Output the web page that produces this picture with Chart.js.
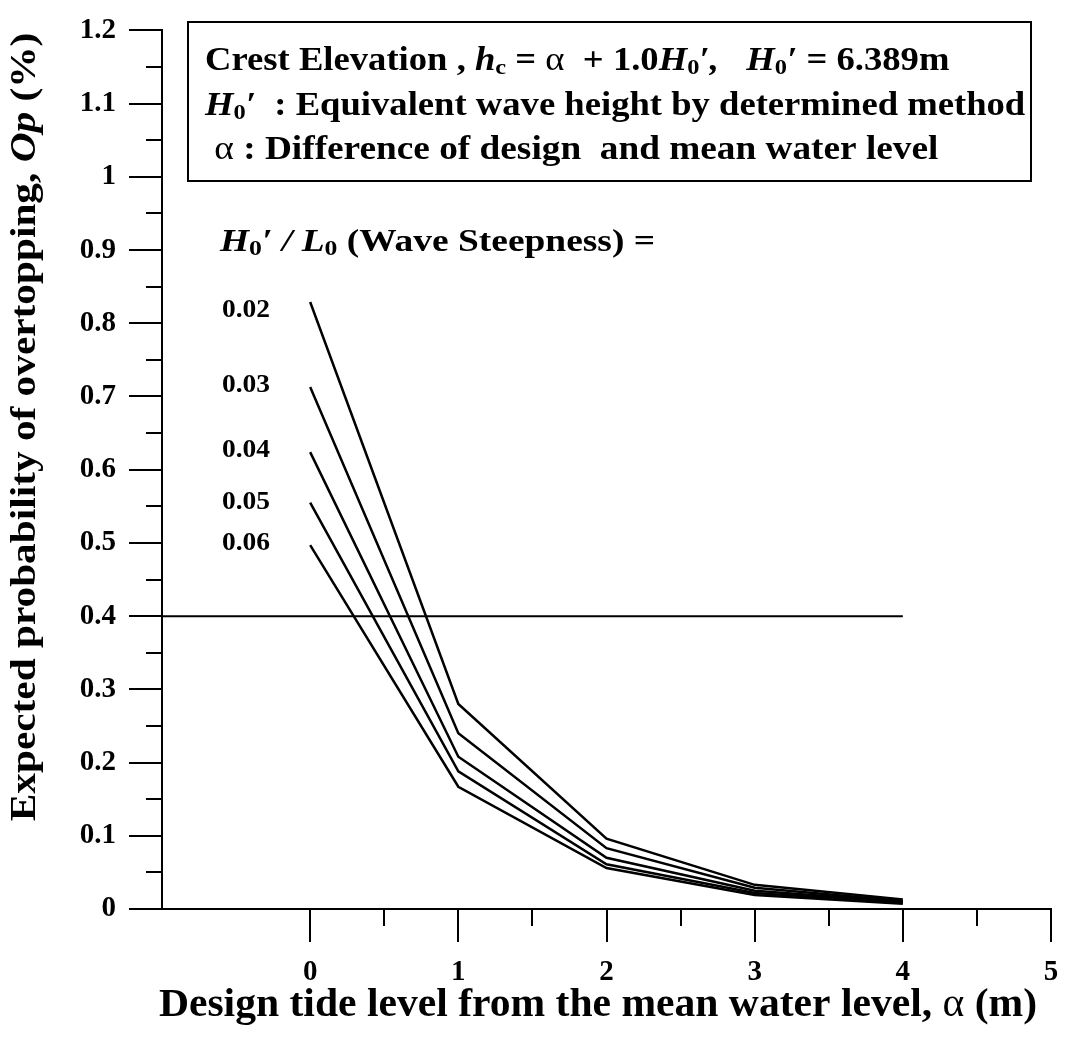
<!DOCTYPE html>
<html>
<head>
<meta charset="utf-8">
<script src="https://cdn.jsdelivr.net/npm/chart.js@4.4.1/dist/chart.umd.min.js"></script>
<style>
  body { margin: 0; background: #fff; }
  #wrap { width: 1072px; height: 1040px; }
</style>
</head>
<body>
<div id="wrap"><canvas id="opChart" width="1072" height="1040"></canvas></div>
<script>
// design tide level alpha (m) and overtopping probability Op (%) per wave steepness
const alpha = [0, 1, 2, 3, 4];
const steepness = ["0.02", "0.03", "0.04", "0.05", "0.06"];
const steepLabelY = [0.808, 0.706, 0.617, 0.547, 0.490];
const op002 = [0.829, 0.280, 0.096, 0.033, 0.013];
const op003 = [0.713, 0.240, 0.083, 0.029, 0.011];
const op004 = [0.624, 0.208, 0.070, 0.025, 0.010];
const op005 = [0.555, 0.188, 0.061, 0.022, 0.009];
const op006 = [0.497, 0.167, 0.056, 0.019, 0.007];
const limitX = [-1, 4];
const limitY = [0.4, 0.4];

const xTickValues = [0, 1, 2, 3, 4, 5];
const xMinorTicks = [0.5, 1.5, 2.5, 3.5, 4.5];

const series = [op002, op003, op004, op005, op006];
const FONT = '"Liberation Serif", "Times New Roman", serif';

function pts(xs, ys) {
    return xs.map((x, i) => ({ x: x, y: ys[i] }));
}

function pieceFont(p, size) {
    let s = p.sub ? Math.round(size * 0.68) : size;
    return (p.it ? "italic " : "") + (p.light ? "" : "bold ") + s + "px " + FONT;
}
// width of a run of text pieces, sx = horizontal stretch
function richWidth(ctx, parts, size, sx) {
    let w = 0;
    parts.forEach(p => {
        ctx.font = pieceFont(p, size);
        w += ctx.measureText(p.t).width;
    });
    return w * (sx || 1);
}
// draws text pieces (bold / italic / subscript) from x on baseline y
function drawRich(ctx, parts, x, y, size, sx) {
    ctx.save();
    ctx.translate(x, y);
    ctx.scale(sx || 1, 1);
    ctx.textAlign = "left";
    ctx.textBaseline = "alphabetic";
    let cx = 0;
    parts.forEach(p => {
        ctx.font = pieceFont(p, size);
        ctx.fillText(p.t, cx, p.sub ? size * 0.12 : 0);
        cx += ctx.measureText(p.t).width;
    });
    ctx.restore();
}

const boxLines = [
    [{t: "Crest Elevation , "}, {t: "h", it: 1}, {t: "c", sub: 1}, {t: " = "}, {t: "\u03b1", light: 1},
     {t: "  + 1.0"}, {t: "H", it: 1}, {t: "0", sub: 1}, {t: "\u2032,", it: 1}, {t: "   "},
     {t: "H", it: 1}, {t: "0", sub: 1}, {t: "\u2032", it: 1}, {t: " = 6.389m"}],
    [{t: "H", it: 1}, {t: "0", sub: 1}, {t: "\u2032", it: 1}, {t: "  : Equivalent wave height by determined method"}],
    [{t: " \u03b1", light: 1}, {t: " : Difference of design  and mean water level"}]
];
const steepHeader = [{t: "H", it: 1}, {t: "0", sub: 1}, {t: "\u2032 / ", it: 1}, {t: "L", it: 1}, {t: "0", sub: 1},
    {t: " (Wave Steepness) ="}];
const yTitle = [{t: "Expected probability of overtopping, "}, {t: "Op", it: 1}, {t: " (%)"}];
const xTitle = [{t: "Design tide level from the mean water level, "}, {t: "\u03b1", light: 1}, {t: " (m)"}];

const decorations = {
    id: "decorations",
    afterDraw(chart) {
        const ctx = chart.ctx;
        const xs = chart.scales.x, ys = chart.scales.y;
        const area = chart.chartArea;
        ctx.save();
        ctx.fillStyle = "#000";
        ctx.strokeStyle = "#000";
        ctx.lineWidth = 2;

        // minor ticks
        ctx.beginPath();
        for (let v = 0.05; v < 1.2; v += 0.1) {
            const py = Math.round(ys.getPixelForValue(v));
            ctx.moveTo(area.left - 16, py);
            ctx.lineTo(area.left, py);
        }
        xMinorTicks.forEach(v => {
            const px = Math.round(xs.getPixelForValue(v));
            ctx.moveTo(px, area.bottom);
            ctx.lineTo(px, area.bottom + 17);
        });
        ctx.stroke();

        // legend box
        ctx.strokeRect(188, 22, 843, 159);
        drawRich(ctx, boxLines[0], 205, 70, 33, 1.11);
        drawRich(ctx, boxLines[1], 205, 115, 33, 1.11);
        drawRich(ctx, boxLines[2], 205, 159, 33, 1.13);

        // steepness header and labels
        drawRich(ctx, steepHeader, 220, 251, 32, 1.17);
        steepness.forEach((txt, i) => {
            const part = [{t: txt}];
            const w = richWidth(ctx, part, 25, 1.1);
            drawRich(ctx, part, 270 - w, ys.getPixelForValue(steepLabelY[i]), 25, 1.1);
        });

        // axis titles
        const xw = richWidth(ctx, xTitle, 40, 1.04);
        drawRich(ctx, xTitle, 598 - xw / 2, 1016, 40, 1.04);

        ctx.translate(35, 427);
        ctx.rotate(-Math.PI / 2);
        const yw = richWidth(ctx, yTitle, 35, 1.18);
        drawRich(ctx, yTitle, -yw / 2, 0, 35, 1.18);
        ctx.restore();
    }
};

const lineStyle = {
    borderColor: "#000",
    borderWidth: 2.5,
    pointRadius: 0,
    fill: false,
    tension: 0
};

const datasets = series.map((s, i) => Object.assign({
    label: steepness[i],
    data: pts(alpha, s)
}, lineStyle));
datasets.push(Object.assign({ label: "limit", data: pts(limitX, limitY) }, lineStyle, { borderWidth: 2 }));

const tickFont = { family: FONT, size: 29, weight: "bold" };

new Chart(document.getElementById("opChart"), {
    type: "line",
    data: { datasets: datasets },
    options: {
        responsive: false,
        animation: false,
        layout: { padding: { top: 22, right: 21, left: 0, bottom: 0 } },
        plugins: { legend: { display: false }, tooltip: { enabled: false } },
        scales: {
            x: {
                type: "linear",
                min: -1,
                max: 5,
                afterFit(scale) { scale.height = 131; },
                afterBuildTicks(scale) { scale.ticks = [-1].concat(xTickValues).map(v => ({ value: v })); },
                ticks: {
                    color: "#000",
                    font: tickFont,
                    padding: 13,
                    maxRotation: 0,
                    callback: v => (v < 0 ? "" : v)
                },
                grid: {
                    drawOnChartArea: false,
                    tickLength: 33,
                    lineWidth: 2,
                    color: ctx => (ctx.tick && ctx.tick.value < 0 ? "rgba(0,0,0,0)" : "#000")
                },
                border: { display: true, color: "#000", width: 2 }
            },
            y: {
                min: 0,
                max: 1.2,
                afterFit(scale) { scale.width = 162; },
                ticks: {
                    stepSize: 0.1,
                    color: "#000",
                    font: tickFont,
                    padding: 13,
                    callback: v => String(Math.round(v * 10) / 10)
                },
                grid: {
                    drawOnChartArea: false,
                    tickLength: 33,
                    lineWidth: 2,
                    color: "#000"
                },
                border: { display: true, color: "#000", width: 2 }
            }
        }
    },
    plugins: [decorations]
});
</script>
</body>
</html>
